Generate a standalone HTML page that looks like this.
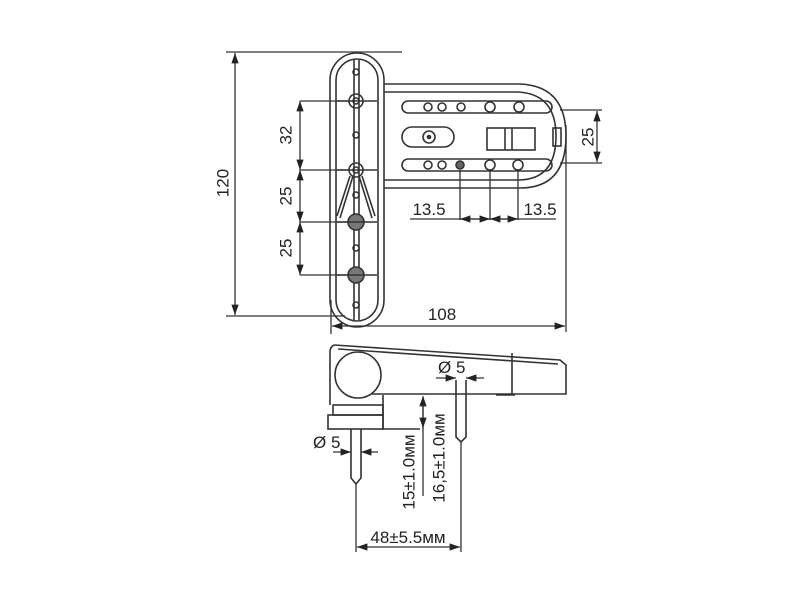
<!DOCTYPE html>
<html><head><meta charset="utf-8"><style>
html,body{margin:0;padding:0;background:#fff;}
svg{display:block}
text{font-family:"Liberation Sans",sans-serif;fill:#222;}
</style></head><body>
<svg width="800" height="600" viewBox="0 0 800 600" xmlns="http://www.w3.org/2000/svg">
<defs>
<marker id="a" viewBox="0 0 10 10" refX="10" refY="5" markerWidth="8" markerHeight="8" orient="auto-start-reverse"><path d="M0,1.5 L10,5 L0,8.5 z" fill="#222"/></marker>
</defs>
<g stroke="#333" stroke-width="1.6" fill="none">
<path d="M384,84 L520,84 Q566,86 566,136 Q566,188 520,188 L384,188"/>
<path d="M384,92 L518,92 Q556,94 556,136 Q556,180 518,180 L384,180"/>
<rect x="402" y="101" width="150" height="12" rx="6"/>
<rect x="402" y="159" width="150" height="12" rx="6"/>
<rect x="402" y="127" width="52" height="20" rx="10"/>
<rect x="487" y="128" width="48" height="22"/>
<line x1="505" y1="128" x2="505" y2="150"/>
<line x1="512" y1="128" x2="512" y2="150"/>
<rect x="553" y="128" width="8" height="18"/>
<circle cx="429" cy="137" r="6"/>
<circle cx="429" cy="137" r="1.5" fill="#333"/>
<g>
<circle cx="428" cy="107" r="4"/><circle cx="442" cy="107" r="4"/><circle cx="461" cy="107" r="4"/><circle cx="490" cy="107" r="5"/><circle cx="519" cy="107" r="5"/>
<circle cx="428" cy="165" r="4"/><circle cx="442" cy="165" r="4"/><circle cx="460" cy="165" r="4" fill="#666"/><circle cx="490" cy="165" r="5"/><circle cx="518" cy="165" r="5"/>
</g>
<rect x="330" y="53" width="54" height="274" rx="27"/>
<rect x="336" y="59" width="42" height="262" rx="21"/>
<line x1="354" y1="60" x2="354" y2="320"/><line x1="359" y1="60" x2="359" y2="320"/>
<circle cx="356" cy="101" r="7"/><circle cx="356" cy="101" r="3"/>
<circle cx="356" cy="170" r="7"/><circle cx="356" cy="170" r="3"/>
<circle cx="356" cy="222" r="8" fill="#777"/>
<circle cx="356" cy="275" r="8" fill="#777"/>
<circle cx="356" cy="72" r="3"/><circle cx="356" cy="135" r="3"/><circle cx="356" cy="195" r="3"/><circle cx="356" cy="248" r="3"/><circle cx="356" cy="305" r="3"/>
<line x1="337" y1="101" x2="377" y2="101"/><line x1="337" y1="170" x2="377" y2="170"/><line x1="337" y1="222" x2="377" y2="222"/><line x1="337" y1="275" x2="377" y2="275"/>
<path d="M353,176 L340,218 M359,176 L372,218 M350,176 L337,216 M362,176 L375,216"/>
</g>
<g stroke="#333" stroke-width="1.3" fill="none">
<line x1="226" y1="52" x2="402" y2="52"/>
<line x1="226" y1="316" x2="345" y2="316"/>
<line x1="235" y1="53" x2="235" y2="315" marker-start="url(#a)" marker-end="url(#a)"/>
<line x1="300" y1="101" x2="350" y2="101"/>
<line x1="300" y1="170" x2="350" y2="170"/>
<line x1="300" y1="222" x2="350" y2="222"/>
<line x1="300" y1="275" x2="350" y2="275"/>
<line x1="300" y1="101" x2="300" y2="170" marker-start="url(#a)" marker-end="url(#a)"/>
<line x1="300" y1="170" x2="300" y2="222" marker-start="url(#a)" marker-end="url(#a)"/>
<line x1="300" y1="222" x2="300" y2="275" marker-start="url(#a)" marker-end="url(#a)"/>
<line x1="560" y1="110" x2="602" y2="110"/>
<line x1="560" y1="163" x2="602" y2="163"/>
<line x1="597" y1="111" x2="597" y2="162" marker-start="url(#a)" marker-end="url(#a)"/>
<line x1="410" y1="219" x2="556" y2="219"/>
<line x1="460" y1="170" x2="460" y2="220"/>
<line x1="490" y1="170" x2="490" y2="220"/>
<line x1="518" y1="170" x2="518" y2="220"/>
<line x1="460" y1="219" x2="490" y2="219" marker-start="url(#a)" marker-end="url(#a)"/>
<line x1="490" y1="219" x2="518" y2="219" marker-start="url(#a)" marker-end="url(#a)"/>
<line x1="331" y1="300" x2="331" y2="334"/>
<line x1="566" y1="125" x2="566" y2="332"/>
<line x1="332" y1="326" x2="565" y2="326" marker-start="url(#a)" marker-end="url(#a)"/>
</g>
<g font-size="17">
<text x="224" y="183" transform="rotate(-90 224 183)" text-anchor="middle" dominant-baseline="middle">120</text>
<text x="287" y="135" transform="rotate(-90 287 135)" text-anchor="middle" dominant-baseline="middle">32</text>
<text x="287" y="196" transform="rotate(-90 287 196)" text-anchor="middle" dominant-baseline="middle">25</text>
<text x="287" y="248" transform="rotate(-90 287 248)" text-anchor="middle" dominant-baseline="middle">25</text>
<text x="589" y="137" transform="rotate(-90 589 137)" text-anchor="middle" dominant-baseline="middle">25</text>
<text x="429" y="215" text-anchor="middle">13.5</text>
<text x="540" y="215" text-anchor="middle">13.5</text>
<text x="442" y="320" text-anchor="middle">108</text>
</g>
<g stroke="#333" stroke-width="1.6" fill="none">
<path d="M334,345 L560,360 L566,365 L566,394 L372,394 M334,345 Q330,347 330,352 L330,405"/>
<path d="M338,349 L558,364"/>
<line x1="512" y1="353" x2="512" y2="394"/>
<line x1="496" y1="395" x2="515" y2="395"/>
<circle cx="358" cy="375" r="23"/>
<rect x="333" y="405" width="50" height="10"/>
<rect x="328" y="415" width="55" height="14"/>
<path d="M383,395 L383,429 L420,429"/>
<path d="M351,429 L351,478 L356,484 L361,478 L361,429"/>
<path d="M456,380 L456,437 L461,442 L466,437 L466,380"/>
</g>
<g stroke="#333" stroke-width="1.3" fill="none">
<line x1="356" y1="484" x2="356" y2="552"/>
<line x1="461" y1="442" x2="461" y2="552"/>
<line x1="357" y1="547" x2="460" y2="547" marker-start="url(#a)" marker-end="url(#a)"/>
<line x1="333" y1="452" x2="351" y2="452" marker-end="url(#a)"/>
<line x1="378" y1="452" x2="361" y2="452" marker-end="url(#a)"/>
<line x1="436" y1="378" x2="456" y2="378" marker-end="url(#a)"/>
<line x1="484" y1="378" x2="466" y2="378" marker-end="url(#a)"/>
<line x1="423" y1="496" x2="423" y2="396" marker-end="url(#a)"/>
<line x1="423" y1="405" x2="423" y2="428" marker-end="url(#a)"/>
</g>
<g font-size="17">
<text x="313" y="448">Ø 5</text>
<text x="438" y="373">Ø 5</text>
<text x="410" y="472" transform="rotate(-90 410 472)" text-anchor="middle" dominant-baseline="middle">15±1.0мм</text>
<text x="440" y="458" transform="rotate(-90 440 458)" text-anchor="middle" dominant-baseline="middle">16,5±1.0мм</text>
<text x="408" y="543" text-anchor="middle">48±5.5мм</text>
</g>
</svg>
</body></html>
